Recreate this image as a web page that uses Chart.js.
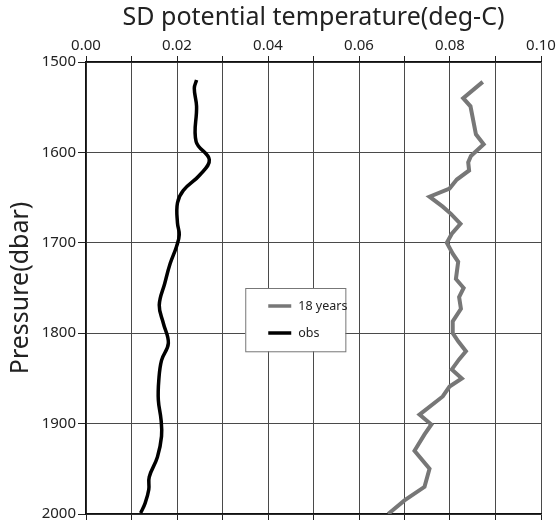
<!DOCTYPE html>
<html>
<head>
<meta charset="utf-8">
<script src="https://cdn.jsdelivr.net/npm/chart.js@4.4.1/dist/chart.umd.min.js"></script>
<style>
  html, body { margin: 0; padding: 0; background: #fff; }
  #wrap { width: 560px; height: 526px; }
</style>
</head>
<body>
<div id="wrap"><canvas id="sdChart" width="560" height="526"></canvas></div>
<script>
// obs profile (black)
const obsPressure = [1520, 1529, 1549, 1588, 1608, 1625, 1642, 1656, 1678, 1691, 1704, 1723, 1745,
  1769, 1789, 1811, 1830, 1852, 1874, 1896, 1914, 1937, 1959, 1973, 1988, 1999];
const obsSD = [0.0243, 0.0238, 0.0243, 0.0242, 0.0271, 0.0250, 0.0214, 0.0201, 0.0201, 0.0205, 0.0199, 0.0185, 0.0173,
  0.0161, 0.0170, 0.0181, 0.0166, 0.0160, 0.0159, 0.0165, 0.0166, 0.0157, 0.0139, 0.0138, 0.0130, 0.0120];

// 18 years run (gray)
const modelPressure = [1522, 1540, 1549, 1580, 1591, 1604, 1611, 1620, 1630, 1640, 1649, 1660, 1668, 1679, 1690,
  1700, 1712, 1721, 1740, 1750, 1760, 1773, 1787, 1800, 1809, 1820, 1829, 1840, 1850, 1859, 1870,
  1890, 1901, 1912, 1930, 1950, 1970, 1985, 2000];
const modelSD = [0.0872, 0.0829, 0.0845, 0.0857, 0.0874, 0.0846, 0.0840, 0.0842, 0.0815, 0.0799, 0.0755, 0.0784, 0.0802, 0.0823, 0.0804,
  0.0793, 0.0806, 0.0818, 0.0813, 0.0830, 0.0820, 0.0824, 0.0806, 0.0806, 0.0818, 0.0835, 0.0820, 0.0804, 0.0826, 0.0799, 0.0784,
  0.0733, 0.0759, 0.0744, 0.0722, 0.0755, 0.0744, 0.0700, 0.0664];

const seriesLabels = ['18 years', 'obs'];
const xTitle = 'SD potential temperature(deg-C)';
const yTitle = 'Pressure(dbar)';

const FONT = "'Noto Sans', 'Open Sans', sans-serif";
const GRID = '#4a4a4a';

function toPoints(xs, ps) {
    return xs.map((v, i) => ({ x: v, y: ps[i] }));
}

// little boxed legend sitting inside the plot
const boxLegend = {
    id: 'boxLegend',
    afterDraw(chart) {
        const ctx = chart.ctx;
        const xs = chart.scales.x, ys = chart.scales.y;
        const left = xs.getPixelForValue(0.035);
        const right = xs.getPixelForValue(0.057);
        const top = ys.getPixelForValue(1750);
        const bottom = ys.getPixelForValue(1820);
        ctx.save();
        ctx.fillStyle = '#fff';
        ctx.fillRect(left, top, right - left, bottom - top);
        ctx.strokeStyle = '#777';
        ctx.lineWidth = 1;
        ctx.strokeRect(left + 0.5, top + 0.5, right - left, bottom - top);
        ctx.font = '12.5px ' + FONT;
        ctx.textBaseline = 'middle';
        chart.data.datasets.forEach((ds, i) => {
            const yy = top + 18 + i * 27;
            ctx.strokeStyle = ds.borderColor;
            ctx.lineWidth = 3.5;
            ctx.beginPath();
            ctx.moveTo(left + 23, yy);
            ctx.lineTo(left + 46, yy);
            ctx.stroke();
            ctx.fillStyle = '#222';
            ctx.fillText(ds.label, left + 53, yy);
        });
        ctx.restore();
    }
};

new Chart(document.getElementById('sdChart').getContext('2d'), {
    type: 'line',
    data: {
        datasets: [
            {
                label: seriesLabels[0],
                data: toPoints(modelSD, modelPressure),
                borderColor: '#777777',
                borderWidth: 4,
                pointRadius: 0,
                tension: 0,
                fill: false
            },
            {
                label: seriesLabels[1],
                data: toPoints(obsSD, obsPressure),
                borderColor: '#000000',
                borderWidth: 3.5,
                pointRadius: 0,
                tension: 0.4,
                fill: false
            }
        ]
    },
    options: {
        responsive: false,
        animation: false,
        layout: { padding: { left: 0, right: 19, top: 0, bottom: 0 } },
        plugins: {
            legend: { display: false },
            tooltip: { enabled: false }
        },
        scales: {
            x: {
                type: 'linear',
                position: 'top',
                min: 0,
                max: 0.1,
                afterFit: s => { s.height = 62; },
                ticks: {
                    stepSize: 0.01,
                    autoSkip: false,
                    maxRotation: 0,
                    color: '#222',
                    font: { size: 15, family: FONT },
                    padding: 1,
                    callback: v => (Math.round(v * 100) % 2 === 0 ? v.toFixed(2) : '')
                },
                grid: { color: GRID, lineWidth: 1, tickLength: 6, tickColor: '#222' },
                border: { color: '#111', width: 1.5 },
                title: {
                    display: true,
                    text: xTitle,
                    color: '#222',
                    font: { size: 25, family: FONT },
                    padding: { top: 3, bottom: 0 }
                }
            },
            x2: {
                type: 'linear',
                position: 'bottom',
                min: 0,
                max: 0.1,
                afterFit: s => { s.height = 12; },
                ticks: { stepSize: 0.01, display: false },
                grid: { drawOnChartArea: false, tickLength: 6, tickColor: '#222' },
                border: { color: '#111', width: 1.5 }
            },
            y: {
                type: 'linear',
                reverse: true,
                min: 1500,
                max: 2000,
                afterFit: s => { s.width = 86; },
                ticks: {
                    stepSize: 100,
                    color: '#222',
                    font: { size: 15, family: FONT },
                    padding: 2,
                    callback: v => String(v)
                },
                grid: { color: GRID, lineWidth: 1, tickLength: 8, tickColor: '#222' },
                border: { color: '#111', width: 1.5 },
                title: {
                    display: true,
                    text: yTitle,
                    color: '#222',
                    font: { size: 25, family: FONT },
                    padding: { top: 6, bottom: 0 }
                }
            }
        }
    },
    plugins: [boxLegend]
});
</script>
</body>
</html>
